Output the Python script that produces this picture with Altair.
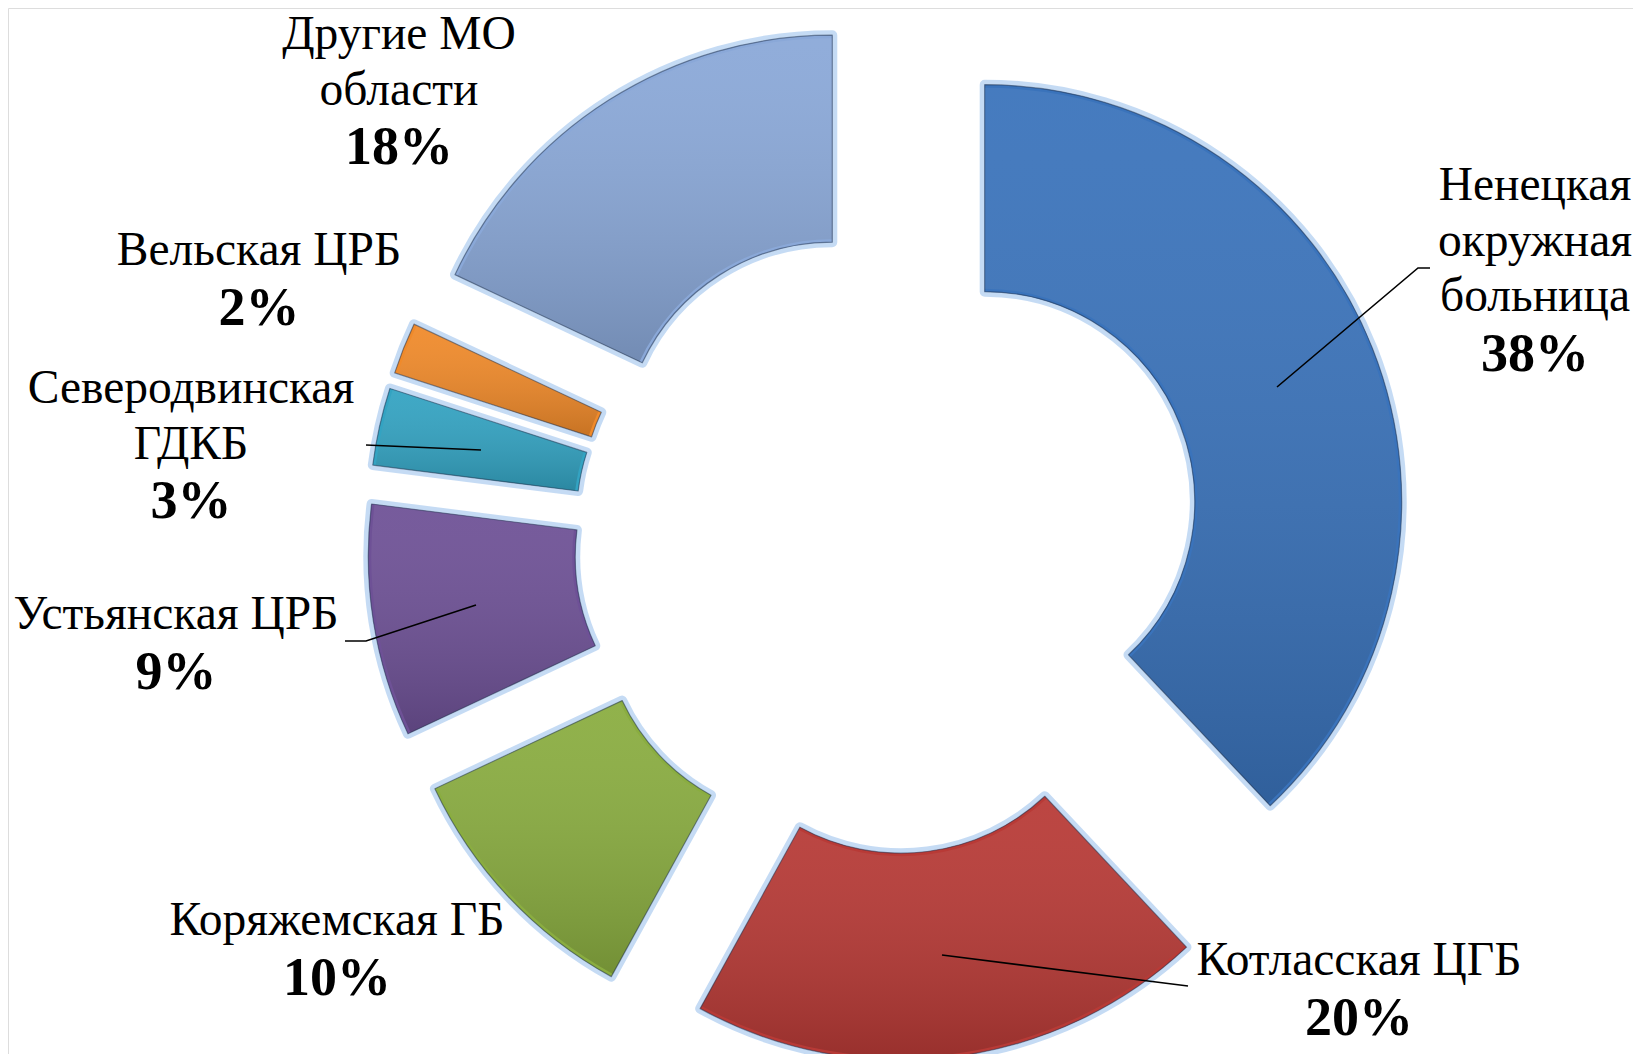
import altair as alt
import pandas as pd

# ---- data ----
categories = ["Ненецкая окружная больница", "Котласская ЦГБ", "Коряжемская ГБ",
              "Устьянская ЦРБ", "Северодвинская ГДКБ", "Вельская ЦРБ", "Другие МО области"]
values = [38, 20, 10, 9, 3, 2, 18]
colors = ["#3a73bb", "#b83a36", "#8aad40", "#6e5196", "#33a3c2", "#f08a2a", "#8aa8d8"]
label_lines = [["Ненецкая", "окружная", "больница"], ["Котласская ЦГБ"], ["Коряжемская ГБ"],
               ["Устьянская ЦРБ"], ["Северодвинская", "ГДКБ"], ["Вельская ЦРБ"],
               ["Другие МО", "области"]]

# ---- layout (pixels, chart coordinates) ----
CX, CY = 880, 532          # donut centre
R_OUT, R_IN = 417, 210     # radii
EXPLODE = 104              # radial explode distance
label_x = [1527, 1351, 329, 168, 183, 251, 391]
label_y0 = [178, 953, 913, 607, 381, 243, 27]
LINE_H = 55.5

slices = pd.DataFrame({"cat": categories, "value": values, "color": colors,
                       "order": list(range(len(categories)))})

rows = []
for i, lines in enumerate(label_lines):
    for j, t in enumerate(lines):
        rows.append({"text": t, "x": label_x[i], "y": label_y0[i] + j * LINE_H, "bold": 0})
    rows.append({"text": f"{values[i]}%", "x": label_x[i],
                 "y": label_y0[i] + len(lines) * LINE_H + 2, "bold": 1})
labels = pd.DataFrame(rows)

leaders = pd.DataFrame([
    {"g": 0, "k": 0, "x": 1422, "y": 260}, {"g": 0, "k": 1, "x": 1410, "y": 260}, {"g": 0, "k": 2, "x": 1269, "y": 379},
    {"g": 1, "k": 0, "x": 1180, "y": 978}, {"g": 1, "k": 1, "x": 1164, "y": 976}, {"g": 1, "k": 2, "x": 934, "y": 947},
    {"g": 2, "k": 0, "x": 337, "y": 633}, {"g": 2, "k": 1, "x": 358, "y": 633}, {"g": 2, "k": 2, "x": 468, "y": 597},
    {"g": 3, "k": 0, "x": 358, "y": 437}, {"g": 3, "k": 1, "x": 473, "y": 442},
])

base = alt.Chart(slices).transform_window(
    cum="sum(value)", sort=[alt.SortField("order")]
).transform_joinaggregate(total="sum(value)").transform_calculate(
    t0="(datum.cum - datum.value) / datum.total * 2 * PI",
    t1="datum.cum / datum.total * 2 * PI",
).transform_calculate(
    mid="(datum.t0 + datum.t1) / 2"
).transform_calculate(
    px=f"{CX} + {EXPLODE} * sin(datum.mid)",
    py=f"{CY} - {EXPLODE} * cos(datum.mid)",
)

enc = dict(
    x=alt.X("px:Q", scale=None, axis=None),
    y=alt.Y("py:Q", scale=None, axis=None),
    theta=alt.Theta("t0:Q", scale=None),
    theta2="t1:Q",
)

glow = base.mark_arc(radius=R_OUT, radius2=R_IN, stroke="#9fc3ec", strokeWidth=10,
                     strokeOpacity=0.6, strokeJoin="round").encode(
    fill=alt.Fill("color:N", scale=None), **enc)
body = base.mark_arc(radius=R_OUT, radius2=R_IN, stroke="#1f2f4a", strokeWidth=1.2,
                     strokeOpacity=0.5, strokeJoin="round").encode(
    fill=alt.Fill("color:N", scale=None), **enc)
shade = base.mark_arc(
    radius=R_OUT - 3, radius2=R_IN + 3,
    fill=alt.LinearGradient(gradient="linear", x1=0, y1=0, x2=0, y2=1,
                            stops=[alt.GradientStop(color="rgba(255,255,255,0.06)", offset=0),
                                   alt.GradientStop(color="rgba(0,0,0,0.17)", offset=1)]),
).encode(**enc)

lines_layer = alt.Chart(leaders).mark_line(color="black", strokeWidth=1.6).encode(
    x=alt.X("x:Q", scale=None), y=alt.Y("y:Q", scale=None), detail="g:N", order="k:Q")

txt_regular = alt.Chart(labels).transform_filter("datum.bold == 0").mark_text(
    font="Liberation Serif", fontSize=47.5, align="center", baseline="middle", color="black"
).encode(x=alt.X("x:Q", scale=None), y=alt.Y("y:Q", scale=None), text="text:N")
txt_bold = alt.Chart(labels).transform_filter("datum.bold == 1").mark_text(
    font="Liberation Serif", fontSize=54, fontWeight="bold", align="center", baseline="middle", color="black"
).encode(x=alt.X("x:Q", scale=None), y=alt.Y("y:Q", scale=None), text="text:N")

chart = alt.layer(glow, body, shade, lines_layer, txt_regular, txt_bold).properties(
    width=1625, height=1046, padding=0, autosize="none"
).configure_view(stroke=None, strokeWidth=0).configure(background="white")

chart.save("out.html", embed_options={"renderer": "svg", "actions": False})
